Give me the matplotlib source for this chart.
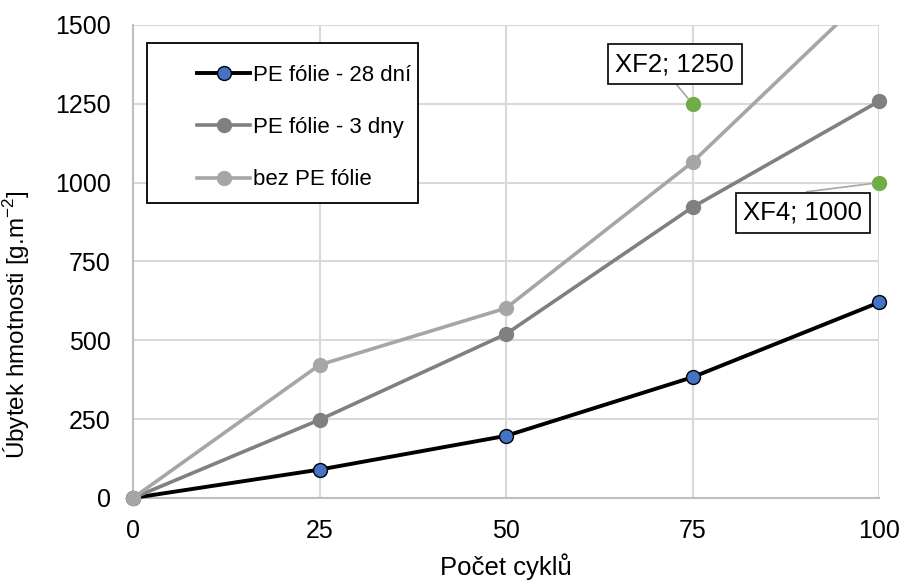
import matplotlib.pyplot as plt
from matplotlib.patches import Rectangle

# data
cykly = [0, 25, 50, 75, 100]
pe_28 = [0, 90, 197, 383, 620]
pe_3 = [0, 248, 520, 922, 1258]
bez_pe = [0, 422, 602, 1065, 1630]

xf_x = [75, 100]
xf_y = [1250, 1000]
xf_labels = ['XF2; 1250', 'XF4; 1000']

plt.rcParams['font.family'] = ['Liberation Sans', 'DejaVu Sans']
plt.rcParams['mathtext.fontset'] = 'custom'
plt.rcParams['mathtext.rm'] = 'Liberation Sans'

fig = plt.figure(figsize=(9.02, 5.8), dpi=100)
ax = fig.add_axes([0.1475, 0.1414, 0.827, 0.8156])

ymax = 1500
ax.plot(cykly, pe_28, color='black', lw=2.8, marker='o', ms=10,
        mfc='#4472C4', mec='black', mew=1.0, label='PE fólie - 28 dní', zorder=3, clip_on=False)
ax.plot(cykly, pe_3, color='#808080', lw=2.6, marker='o', ms=10,
        mfc='#808080', mec='#808080', label='PE fólie - 3 dny', zorder=4, clip_on=False)
# bez folie - cara oriznuta, body jen v rozsahu osy
ax.plot(cykly, bez_pe, color='#A6A6A6', lw=2.6, zorder=5)
bx = [x for x, y in zip(cykly, bez_pe) if y <= ymax]
by = [y for y in bez_pe if y <= ymax]
ax.plot(bx, by, ls='none', marker='o', ms=10, color='#A6A6A6', zorder=5, clip_on=False)
ax.plot([], [], color='#A6A6A6', lw=2.6, marker='o', ms=10, label='bez PE fólie')

ax.plot(xf_x, xf_y, ls='none', marker='o', ms=10, color='#70AD47', zorder=6, clip_on=False)

# popisky XF
pos = [(72.6, 1376), (89.8, 904)]
rel = [(0.52, -0.38), (0.53, 1.38)]
for x, y, t, p, r in zip(xf_x, xf_y, xf_labels, pos, rel):
    ax.annotate(t, xy=(x, y), xytext=p, ha='center', va='center', fontsize=18.5,
                bbox=dict(boxstyle='square,pad=0.3', fc='white', ec='black', lw=1.2),
                arrowprops=dict(arrowstyle='-', color='#A6A6A6', lw=1.2, patchA=None,
                                shrinkA=0, shrinkB=5, relpos=r),
                zorder=7)

ax.set_xlim(0, 100)
ax.set_ylim(0, ymax)
ax.set_xticks(cykly)
ax.set_yticks(range(0, ymax + 1, 250))
ax.grid(True, color='#D9D9D9', lw=1.5)
ax.set_axisbelow(True)
for s in ['top', 'right']:
    ax.spines[s].set_visible(False)
for s in ['left', 'bottom']:
    ax.spines[s].set_color('#BFBFBF')
    ax.spines[s].set_linewidth(1.5)
ax.tick_params(length=0, labelsize=18)
ax.tick_params(axis='y', pad=16)
ax.tick_params(axis='x', pad=15)

ax.set_xlabel('Počet cyklů', fontsize=18.5)
ax.xaxis.set_label_coords(0.5, -0.118)
ax.set_ylabel('Úbytek hmotnosti [g.m$^{\\mathregular{-2}}$]', fontsize=17.5)
ax.yaxis.set_label_coords(-0.135, 0.366)

# legenda - ramecek zvlast
ax.add_patch(Rectangle((0.0188, 0.6237), 0.363, 0.338, transform=ax.transAxes,
                       fc='white', ec='black', lw=1.3, zorder=9))
leg = ax.legend(loc='upper left', bbox_to_anchor=(0.0858, 0.915), fontsize=16,
                frameon=False, borderpad=0, labelspacing=1.4, handlelength=2.4,
                handletextpad=0.1, borderaxespad=0)
leg.set_zorder(10)

fig.savefig('out.png', dpi=100)
